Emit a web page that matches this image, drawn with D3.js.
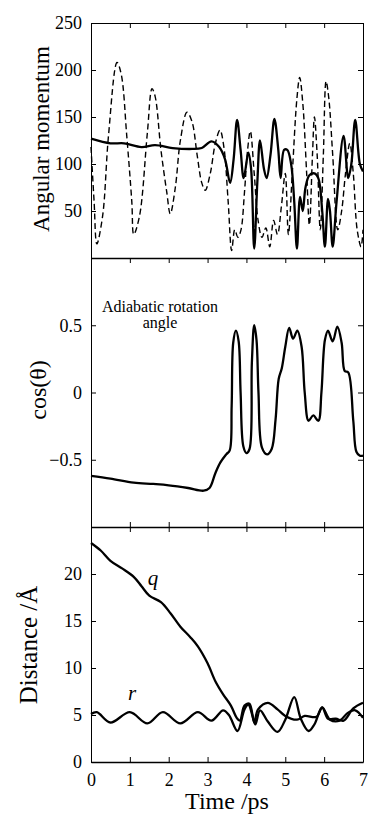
<!DOCTYPE html>
<html>
<head>
<meta charset="utf-8">
<script src="https://cdn.jsdelivr.net/npm/d3@7"></script>
<style>
  body { margin: 0; background: #fff; }
  .axis line, .axis path { stroke: #000; }
</style>
</head>
<body>
<svg width="368" height="831" font-family="Liberation Serif, Times New Roman, serif"></svg>
<script>
"use strict";

var serif = "'Liberation Serif', 'Times New Roman', Times, serif";

// time axis
var timeTicks = [0, 1, 2, 3, 4, 5, 6, 7];

// top panel: angular momentum (solid and dashed)
var amTime = [0, 0.5, 0.85, 1.3, 1.65, 2.1, 2.6, 2.85, 3.1, 3.3, 3.45, 3.58, 3.67, 3.76, 3.85, 3.93, 4.05, 4.12, 4.2, 4.28, 4.35, 4.45, 4.52, 4.62, 4.72, 4.82, 4.88, 4.97, 5.05, 5.15, 5.23, 5.3, 5.38, 5.45, 5.52, 5.62, 5.75, 5.85, 5.95, 6.02, 6.1, 6.15, 6.22, 6.32, 6.5, 6.62, 6.7, 6.8, 6.92, 7.0];
var amSolid = [127, 122, 122, 118, 120, 117, 116, 117, 124, 118, 105, 80, 105, 147, 115, 85, 112, 95, 10, 80, 125, 95, 85, 110, 148, 115, 85, 115, 115, 100, 60, 10, 65, 50, 75, 88, 90, 85, 50, 12, 63, 50, 12, 60, 130, 85, 100, 147, 100, 92];

var dashTime = [0, 0.08, 0.15, 0.3, 0.45, 0.67, 0.78, 0.92, 1.05, 1.1, 1.25, 1.45, 1.57, 1.65, 1.8, 1.95, 2.04, 2.17, 2.3, 2.47, 2.6, 2.73, 2.85, 2.94, 3.07, 3.2, 3.32, 3.42, 3.53, 3.62, 3.7, 3.78, 3.86, 3.95, 4.03, 4.1, 4.2, 4.3, 4.4, 4.5, 4.6, 4.7, 4.8, 4.9, 5.0, 5.08, 5.18, 5.3, 5.37, 5.45, 5.55, 5.62, 5.7, 5.75, 5.82, 5.9, 5.98, 6.05, 6.12, 6.22, 6.35, 6.45, 6.55, 6.66, 6.75, 6.85, 6.95, 7.0];
var amDashed = [118, 60, 15, 45, 130, 208, 195, 130, 60, 25, 45, 133, 180, 172, 115, 70, 47, 75, 125, 155, 145, 110, 80, 72, 90, 122, 136, 118, 60, 8, 30, 22, 30, 70, 115, 135, 90, 40, 22, 32, 12, 40, 25, 55, 90, 25, 90, 170, 192, 165, 90, 35, 110, 150, 110, 30, 110, 188, 170, 110, 30, 50, 90, 122, 90, 30, 12, 30];

// middle panel: cos(theta)
var cosTime = [0, 0.5, 1.1, 1.6, 2.0, 2.5, 2.9, 3.05, 3.2, 3.33, 3.48, 3.57, 3.62, 3.66, 3.73, 3.8, 3.85, 3.92, 4.0, 4.08, 4.14, 4.2, 4.26, 4.31, 4.4, 4.53, 4.65, 4.75, 4.83, 4.91, 5.0, 5.1, 5.2, 5.31, 5.42, 5.5, 5.6, 5.72, 5.85, 5.93, 6.02, 6.1, 6.22, 6.34, 6.45, 6.53, 6.62, 6.75, 6.83, 6.92, 7.0];
var cosValue = [-0.62, -0.64, -0.67, -0.68, -0.69, -0.71, -0.73, -0.71, -0.6, -0.52, -0.46, -0.43, -0.1, 0.37, 0.46, 0.38, 0.0, -0.4, -0.45, -0.42, 0.22, 0.5, 0.39, 0.0, -0.41, -0.46, -0.42, -0.2, 0.1, 0.18, 0.34, 0.48, 0.4, 0.46, 0.34, 0.0, -0.21, -0.17, -0.21, 0.0, 0.39, 0.46, 0.38, 0.49, 0.37, 0.16, 0.15, -0.21, -0.44, -0.47, -0.47];

// bottom panel: distances q and r
var qTime = [0, 0.25, 0.5, 0.8, 1.1, 1.3, 1.5, 1.8, 2.05, 2.3, 2.55, 2.75, 3.0, 3.2, 3.4, 3.6, 3.75, 3.83, 3.95, 4.08, 4.2, 4.3, 4.55, 4.8, 5.0, 5.3, 5.5, 5.8, 5.95, 6.1, 6.3, 6.5, 6.75, 7.0];
var qValue = [23.3, 22.5, 21.4, 20.6, 19.7, 18.7, 17.7, 17.0, 15.8, 14.4, 13.3, 12.3, 10.5, 8.6, 7.2, 6.0, 4.7, 4.4, 6.0, 6.2, 4.2, 5.6, 6.3, 5.6, 4.9, 4.5, 4.9, 4.8, 5.8, 4.6, 4.6, 4.4, 5.7, 6.3];
var rTime = [0, 0.15, 0.5, 1.0, 1.45, 1.85, 2.3, 2.75, 3.1, 3.4, 3.55, 3.77, 3.95, 4.05, 4.15, 4.23, 4.35, 4.55, 4.8, 5.0, 5.23, 5.4, 5.6, 5.75, 5.95, 6.15, 6.4, 6.6, 6.8, 7.0];
var rValue = [5.1, 5.3, 4.2, 5.3, 4.1, 5.3, 4.1, 5.3, 4.4, 5.5, 5.0, 3.3, 5.6, 6.1, 5.0, 4.0, 5.5, 4.3, 3.2, 4.5, 6.9, 4.6, 3.3, 4.0, 5.8, 4.5, 4.4, 5.2, 5.5, 4.7];

var svg = d3.select("svg"),
  left = 91, right = 363,
  x = d3.scaleLinear().domain([0, 7]).range([left, right]),
  yAm = d3.scaleLinear().domain([0, 250]).range([258, 23]),
  yCos = d3.scaleLinear().domain([-1, 1]).range([527, 258]),
  yDist = d3.scaleLinear().domain([0, 25]).range([762, 527])
;

function zip(ts, vs) { return ts.map(function(t, i) { return [t, vs[i]]; }); }

function drawLine(data, y, width, dash) {
  var line = d3.line()
    .x(function(d) { return x(d[0]); })
    .y(function(d) { return y(d[1]); })
    .curve(d3.curveCatmullRom.alpha(0.5));
  svg.append("path")
    .datum(data)
    .attr("d", line)
    .attr("fill", "none")
    .attr("stroke", "#000")
    .attr("stroke-width", width)
    .attr("stroke-linejoin", "round")
    .attr("stroke-dasharray", dash || null);
}

// panel axes
function panel(y, labelTicks, opts) {
  var top = y.range()[1], bottom = y.range()[0];

  svg.append("g").attr("class", "axis")
    .attr("transform", "translate(0," + top + ")")
    .call(d3.axisTop(x).tickValues(timeTicks).tickSize(-5).tickSizeOuter(0).tickFormat(""));

  svg.append("g").attr("class", "axis")
    .attr("transform", "translate(" + left + ",0)")
    .call(d3.axisLeft(y).tickValues(labelTicks).tickSize(-5).tickSizeOuter(0).tickPadding(9).tickFormat(opts.fmt));

  svg.append("g").attr("class", "axis")
    .attr("transform", "translate(" + right + ",0)")
    .call(d3.axisRight(y).tickValues(labelTicks).tickSize(-5).tickSizeOuter(0).tickFormat(""));

  var bx = d3.axisBottom(x).tickValues(timeTicks).tickSize(opts.bottomTicks ? -5 : 0).tickSizeOuter(0);
  if (opts.xLabels) bx.tickPadding(11).tickFormat(d3.format("d")); else bx.tickFormat("");
  svg.append("g").attr("class", "axis")
    .attr("transform", "translate(0," + bottom + ")")
    .call(bx)
    .select(".domain").attr("stroke-width", 1.5);
}

panel(yAm, [50, 100, 150, 200, 250], {fmt: d3.format("d"), bottomTicks: false});
panel(yCos, [-0.5, 0, 0.5], {fmt: function(d) { return d === 0 ? "0" : d3.format(".1f")(d); }, bottomTicks: true});
panel(yDist, [0, 5, 10, 15, 20], {fmt: d3.format("d"), bottomTicks: true, xLabels: true});

svg.selectAll(".axis").attr("font-family", serif).attr("font-size", 18);
svg.selectAll(".axis text").attr("fill", "#000");

// data
drawLine(zip(dashTime, amDashed), yAm, 1.4, "6,3.5");
drawLine(zip(amTime, amSolid), yAm, 2.3);
drawLine(zip(cosTime, cosValue), yCos, 2.3);
drawLine(zip(qTime, qValue), yDist, 2.3);
drawLine(zip(rTime, rValue), yDist, 2.3);

// axis titles
function yTitle(text, cx, cy, size) {
  svg.append("text")
    .attr("transform", "translate(" + cx + "," + cy + ") rotate(-90)")
    .attr("text-anchor", "middle")
    .attr("font-family", serif)
    .attr("font-size", size)
    .text(text);
}
yTitle("Angular momentum", 49, 139, 23);
yTitle("cos(\u03b8)", 46, 390, 24);
yTitle("Distance /\u00c5", 37, 645, 25);

svg.append("text")
  .attr("x", 227).attr("y", 809)
  .attr("text-anchor", "middle")
  .attr("font-family", serif)
  .attr("font-size", 24)
  .text("Time /ps");

// annotations
var note = svg.append("text").attr("text-anchor", "middle").attr("font-family", serif).attr("font-size", 16);
note.append("tspan").attr("x", 160).attr("y", 312).text("Adiabatic rotation");
note.append("tspan").attr("x", 160).attr("y", 328).text("angle");

svg.append("text").attr("x", 153).attr("y", 585).attr("font-family", serif).attr("font-size", 21).attr("font-style", "italic").attr("text-anchor", "middle").text("q");
svg.append("text").attr("x", 132).attr("y", 700).attr("font-family", serif).attr("font-size", 21).attr("font-style", "italic").attr("text-anchor", "middle").text("r");
</script>
</body>
</html>
